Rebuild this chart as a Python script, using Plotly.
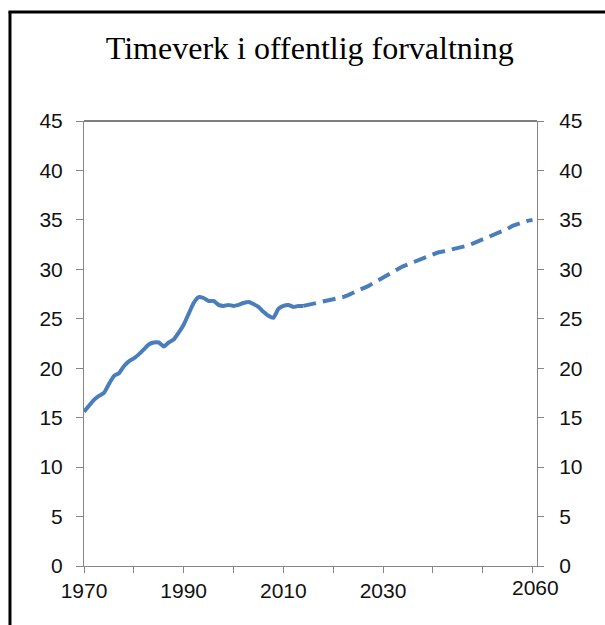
import plotly.graph_objects as go

# ---- data ----
hist_years = list(range(1970, 2015))
hist_values = [15.6, 16.2, 16.8, 17.2, 17.5, 18.4, 19.2, 19.5, 20.2, 20.7,
               21.0, 21.4, 21.9, 22.4, 22.6, 22.6, 22.2, 22.6, 22.9, 23.6,
               24.4, 25.5, 26.6, 27.2, 27.1, 26.8, 26.8, 26.4, 26.3, 26.4,
               26.3, 26.4, 26.6, 26.7, 26.5, 26.2, 25.7, 25.3, 25.1, 26.0,
               26.3, 26.4, 26.2, 26.3, 26.3]

proj_years = list(range(2014, 2061))
proj_values = [26.3, 26.4, 26.5, 26.7, 26.8, 26.9, 27.0, 27.1, 27.2, 27.4,
               27.6, 27.8, 28.0, 28.3, 28.6, 28.9, 29.1, 29.5, 29.8, 30.0,
               30.3, 30.5, 30.7, 30.9, 31.2, 31.4, 31.6, 31.7, 31.8, 31.9,
               32.0, 32.2, 32.3, 32.4, 32.6, 32.8, 33.0, 33.3, 33.5, 33.7,
               33.9, 34.1, 34.4, 34.6, 34.7, 34.9, 35.0]

x_tick_vals = list(range(1970, 2061, 10))
x_tick_text = ["1970", "", "1990", "", "2010", "", "2030", "", "", ""]
x_last_label = "2060"
y_tick_vals = list(range(0, 46, 5))

title_text = "Timeverk i offentlig forvaltning"

# ---- styles ----
LINE_COLOR = "#4a7ebb"
AXIS_COLOR = "#868686"
TICK_FONT = dict(family="Liberation Sans, Arial, sans-serif", size=21, color="#111111")

fig = go.Figure()
fig.add_trace(go.Scatter(x=hist_years, y=hist_values, mode="lines",
                         line=dict(color=LINE_COLOR, width=4, shape="spline", smoothing=0.5),
                         showlegend=False, hoverinfo="x+y"))
fig.add_trace(go.Scatter(x=proj_years, y=proj_values, mode="lines", yaxis="y2",
                         line=dict(color=LINE_COLOR, width=4, dash="13px,7px"),
                         showlegend=False, hoverinfo="x+y"))

fig.update_layout(
    width=605, height=625,
    margin=dict(l=84, r=68, t=121, b=59),
    paper_bgcolor="white", plot_bgcolor="white",
    title=dict(text=title_text, x=0.512, xanchor="center", y=0.923, yanchor="middle",
               font=dict(family="Liberation Serif, Times New Roman, serif", size=32, color="#000000")),
    xaxis=dict(range=[1970, 2060.9], tickmode="array", tickvals=x_tick_vals, ticktext=x_tick_text,
               showgrid=False, zeroline=False, showline=True, linecolor=AXIS_COLOR, linewidth=1,
               ticks="outside", ticklen=6, tickcolor=AXIS_COLOR, tickfont=TICK_FONT,
               ticklabelstandoff=0),
    yaxis=dict(range=[0, 45], tickvals=y_tick_vals, showgrid=False, zeroline=False,
               showline=True, linecolor=AXIS_COLOR, linewidth=1,
               ticks="outside", ticklen=7, tickcolor=AXIS_COLOR, tickfont=TICK_FONT,
               ticklabelstandoff=9),
    yaxis2=dict(range=[0, 45], tickvals=y_tick_vals, overlaying="y", side="right",
                showgrid=False, zeroline=False, showline=True, linecolor=AXIS_COLOR, linewidth=1,
                ticks="outside", ticklen=6, tickcolor=AXIS_COLOR, tickfont=TICK_FONT,
                ticklabelstandoff=11),
    shapes=[
        dict(type="line", xref="paper", yref="paper", x0=0, x1=1, y0=1, y1=1,
             line=dict(color="#555555", width=1.3)),
        dict(type="line", xref="paper", yref="paper", x0=-0.1634, x1=-0.1634, y0=1.2449, y1=-0.2,
             line=dict(color="#000000", width=3)),
        dict(type="line", xref="paper", yref="paper", x0=-0.1668, x1=1.2, y0=1.2449, y1=1.2449,
             line=dict(color="#000000", width=3)),
    ],
    annotations=[
        dict(text=x_last_label, x=2060, xref="x", y=-0.0472, yref="paper", xshift=3,
             showarrow=False, xanchor="center", yanchor="middle", font=TICK_FONT),
    ],
)

fig.write_html("out.html", config={"displayModeBar": False},
               post_script="document.body.style.margin='0';document.body.style.overflow='hidden';")
